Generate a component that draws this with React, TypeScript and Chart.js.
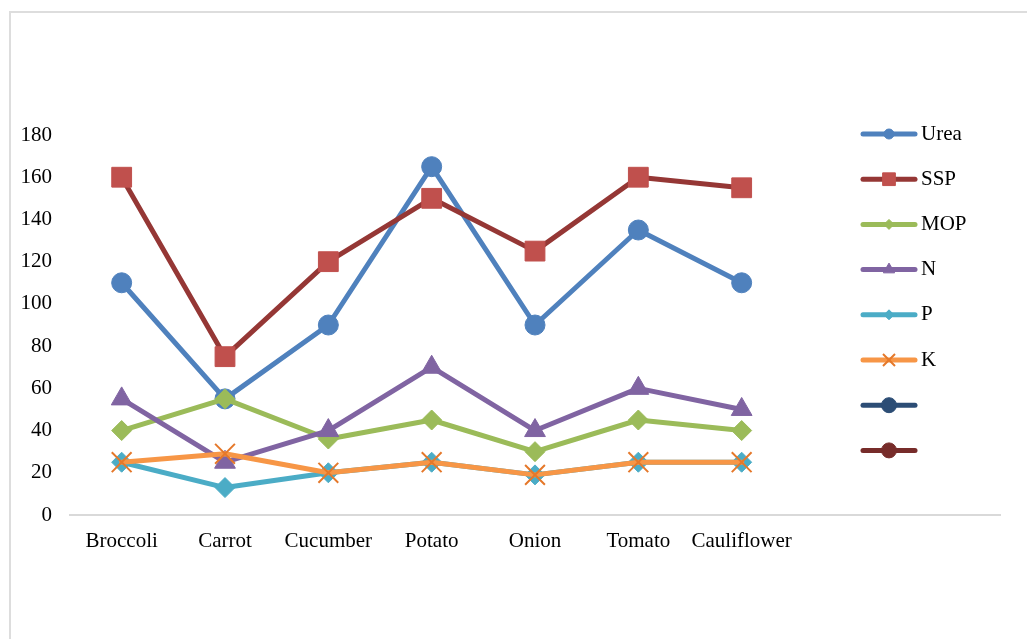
import React, { useRef, useEffect } from 'react';
import { Chart, registerables } from 'chart.js';
import { drawPoint } from 'chart.js/helpers';

Chart.register(...registerables);

// categories (last two are blank columns in the source sheet)
const categories = ['Broccoli', 'Carrot', 'Cucumber', 'Potato', 'Onion', 'Tomato', 'Cauliflower', '', ''];

// series values
const urea = [110, 55, 90, 165, 90, 135, 110];
const ssp = [160, 75, 120, 150, 125, 160, 155];
const mop = [40, 55, 36, 45, 30, 45, 40];
const nValues = [55, 25, 40, 70, 40, 60, 50];
const pValues = [25, 13, 20, 25, 19, 25, 25];
const kValues = [25, 29, 20, 25, 19, 25, 25];
const blank7: (number | null)[] = [];
const blank8: (number | null)[] = [];

const seriesNames = ['Urea', 'SSP', 'MOP', 'N', 'P', 'K', '', ''];
const seriesValues = [urea, ssp, mop, nValues, pValues, kValues, blank7, blank8];

const yMin = 0;
const yMax = 180;
const yStep = 20;

const FONT = "'Liberation Serif', 'Times New Roman', serif";

// look of each series: line colour, marker colour, marker shape, sizes
const seriesStyles = [
  { line: '#4F81BD', marker: '#4F81BD', shape: 'circle', r: 10, lr: 5 },
  { line: '#953735', marker: '#C0504D', shape: 'rect', r: 14, lr: 9 },
  { line: '#9BBB59', marker: '#9BBB59', shape: 'rectRot', r: 10, lr: 5 },
  { line: '#8064A2', marker: '#8064A2', shape: 'triangle', r: 12, lr: 6.5 },
  { line: '#4BACC6', marker: '#4BACC6', shape: 'rectRot', r: 10, lr: 5 },
  { line: '#F79646', marker: '#E5782A', shape: 'crossRot', r: 14, lr: 8.5 },
  { line: '#2C4D75', marker: '#2C4D75', shape: 'circle', r: 10, lr: 7.5 },
  { line: '#772C2A', marker: '#772C2A', shape: 'circle', r: 10, lr: 7.5 },
];

const LEGEND_X = 861;
const LEGEND_TOP = 134;
const LEGEND_STEP = 45.2;

const legendPlugin = {
  id: 'lineLegend',
  afterDraw(chart: Chart) {
    const ctx = chart.ctx;
    ctx.save();
    seriesNames.forEach((name, i) => {
      const st = seriesStyles[i];
      const y = LEGEND_TOP + i * LEGEND_STEP;
      ctx.strokeStyle = st.line;
      ctx.lineWidth = 5;
      ctx.lineCap = 'round';
      ctx.beginPath();
      ctx.moveTo(LEGEND_X + 2, y);
      ctx.lineTo(LEGEND_X + 54, y);
      ctx.stroke();
      ctx.lineCap = 'butt';
      const bw = st.shape === 'crossRot' ? 2 : 1;
      ctx.fillStyle = st.marker;
      ctx.strokeStyle = st.marker;
      ctx.lineWidth = bw;
      drawPoint(ctx, { pointStyle: st.shape as any, radius: st.lr, rotation: 0, borderWidth: bw }, LEGEND_X + 28, y);
      ctx.fillStyle = '#000';
      ctx.font = `21px ${FONT}`;
      ctx.textAlign = 'left';
      ctx.textBaseline = 'middle';
      ctx.fillText(name, LEGEND_X + 60, y);
    });
    ctx.restore();
  },
};

const App: React.FC = () => {
  const canvasRef = useRef<HTMLCanvasElement>(null);

  useEffect(() => {
    if (!canvasRef.current) return;
    const ctx = canvasRef.current.getContext('2d');
    if (!ctx) return;

    const datasets = seriesNames.map((name, i) => {
      const st = seriesStyles[i];
      return {
        label: name,
        data: seriesValues[i],
        borderColor: st.line,
        backgroundColor: st.marker,
        borderWidth: 5,
        borderCapStyle: 'round' as const,
        borderJoinStyle: 'round' as const,
        tension: 0,
        fill: false,
        pointStyle: st.shape as any,
        pointRadius: st.r,
        pointBackgroundColor: st.marker,
        pointBorderColor: st.marker,
        pointBorderWidth: st.shape === 'crossRot' ? 2 : 1,
        // later series sit on top, as in the source
        order: seriesNames.length - i,
      };
    });

    const chart = new Chart(ctx, {
      type: 'line',
      data: { labels: categories, datasets },
      options: {
        responsive: true,
        maintainAspectRatio: false,
        animation: false,
        events: [],
        layout: { padding: { top: 135, left: 10, right: 27, bottom: 84 } },
        font: { family: FONT, size: 21 },
        scales: {
          x: {
            offset: true,
            grid: { display: false, drawTicks: false },
            border: { display: true, color: '#D9D9D9', width: 2 },
            ticks: {
              color: '#000',
              font: { family: FONT, size: 21 },
              padding: 14,
              maxRotation: 0,
              autoSkip: false,
            },
            afterFit: (scale: any) => {
              scale.height = 40;
            },
          },
          y: {
            min: yMin,
            max: yMax,
            grid: { display: false, drawTicks: false },
            border: { display: false },
            ticks: {
              stepSize: yStep,
              color: '#000',
              font: { family: FONT, size: 21 },
              padding: 18,
            },
            afterFit: (scale: any) => {
              scale.width = 60;
            },
          },
        },
        plugins: {
          legend: { display: false },
          tooltip: { enabled: false },
          title: { display: false },
        },
      } as any,
      plugins: [legendPlugin],
    });

    return () => {
      chart.destroy();
    };
  }, []);

  return (
    <div style={{ position: 'fixed', left: 0, top: 0, width: 1027, height: 639, background: '#fff', overflow: 'hidden' }}>
      <div
        style={{
          position: 'absolute',
          left: 9,
          top: 11,
          width: 1100,
          height: 700,
          border: '2px solid #DDDDDD',
          boxSizing: 'border-box',
        }}
      />
      <div style={{ position: 'absolute', left: 0, top: 0, width: 1027, height: 639 }}>
        <canvas ref={canvasRef} />
      </div>
    </div>
  );
};

export default App;
